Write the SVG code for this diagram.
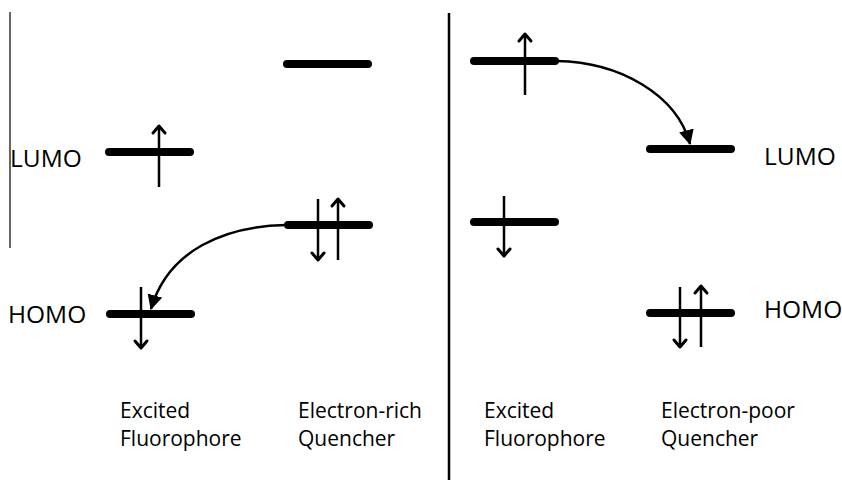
<svg xmlns="http://www.w3.org/2000/svg" width="842" height="480" viewBox="0 0 842 480">
<style>
.lvl{stroke:#000;stroke-width:8;stroke-linecap:round}
.spin{stroke:#000;stroke-width:2.5;fill:none}
.head{stroke:#000;stroke-width:3;fill:none;stroke-linecap:round;stroke-linejoin:round}
.curve{stroke:#000;stroke-width:2.5;fill:none}
text{font-family:"Open Sans","Liberation Sans",sans-serif;fill:#000}
.lab{font-size:24.5px}
.cap{font-size:21px}
</style>
<defs>
<marker id="tri" markerWidth="18" markerHeight="18" refX="14" refY="7.5" orient="auto" markerUnits="userSpaceOnUse">
<path d="M0,0 L15,7.5 L0,15 Z" fill="#000"/>
</marker>
</defs>
<rect width="842" height="480" fill="#fff"/>
<line x1="10" y1="12" x2="10" y2="248" stroke="#000" stroke-width="1.2"/>
<line x1="449" y1="13" x2="449" y2="480" stroke="#000" stroke-width="2.5"/>

<g id="left-fluor-lumo">
<line class="lvl" x1="109" y1="152" x2="190" y2="152"/>
<line class="spin" x1="159" y1="187" x2="159" y2="126"/>
<path class="head" d="M153,133 L159,126 L165,133"/>
</g>
<g id="left-fluor-homo">
<line class="lvl" x1="110" y1="314" x2="191" y2="314"/>
<line class="spin" x1="141" y1="287" x2="141" y2="348"/>
<path class="head" d="M135,341 L141,348 L147,341"/>
</g>
<g id="rich-lumo">
<line class="lvl" x1="287" y1="64" x2="368" y2="64"/>
</g>
<g id="rich-homo">
<line class="lvl" x1="288" y1="225" x2="369" y2="225"/>
<line class="spin" x1="318" y1="199" x2="318" y2="260"/>
<path class="head" d="M312,253 L318,260 L324,253"/>
<line class="spin" x1="338" y1="260" x2="338" y2="199"/>
<path class="head" d="M332,206 L338,199 L344,206"/>
</g>
<g id="right-fluor-lumo">
<line class="lvl" x1="474" y1="61" x2="555" y2="61"/>
<line class="spin" x1="525" y1="95" x2="525" y2="34"/>
<path class="head" d="M519,41 L525,34 L531,41"/>
</g>
<g id="right-fluor-homo">
<line class="lvl" x1="474" y1="222" x2="555" y2="222"/>
<line class="spin" x1="504" y1="196" x2="504" y2="256"/>
<path class="head" d="M498,249 L504,256 L510,249"/>
</g>
<g id="poor-lumo">
<line class="lvl" x1="650" y1="149" x2="731" y2="149"/>
</g>
<g id="poor-homo">
<line class="lvl" x1="650" y1="313" x2="731" y2="313"/>
<line class="spin" x1="680" y1="287" x2="680" y2="347"/>
<path class="head" d="M674,340 L680,347 L686,340"/>
<line class="spin" x1="701" y1="347" x2="701" y2="286"/>
<path class="head" d="M695,293 L701,286 L707,293"/>
</g>

<g id="connectors">
<path class="curve" d="M286,225 C225,226 168,250 151,309" marker-end="url(#tri)"/>
<path class="curve" d="M557,61 C620,62 677,95 690,144" marker-end="url(#tri)"/>
</g>

<g id="labels">
<text class="lab" x="10" y="167">LUMO</text>
<text class="lab" x="8" y="323">HOMO</text>
<text class="lab" x="764" y="165">LUMO</text>
<text class="lab" x="764" y="318">HOMO</text>
<text class="cap" x="120" y="418">Excited</text>
<text class="cap" x="120" y="446">Fluorophore</text>
<text class="cap" x="298" y="418">Electron-rich</text>
<text class="cap" x="298" y="446">Quencher</text>
<text class="cap" x="484" y="418">Excited</text>
<text class="cap" x="484" y="446">Fluorophore</text>
<text class="cap" x="661" y="418">Electron-poor</text>
<text class="cap" x="661" y="446">Quencher</text>
</g>
</svg>
